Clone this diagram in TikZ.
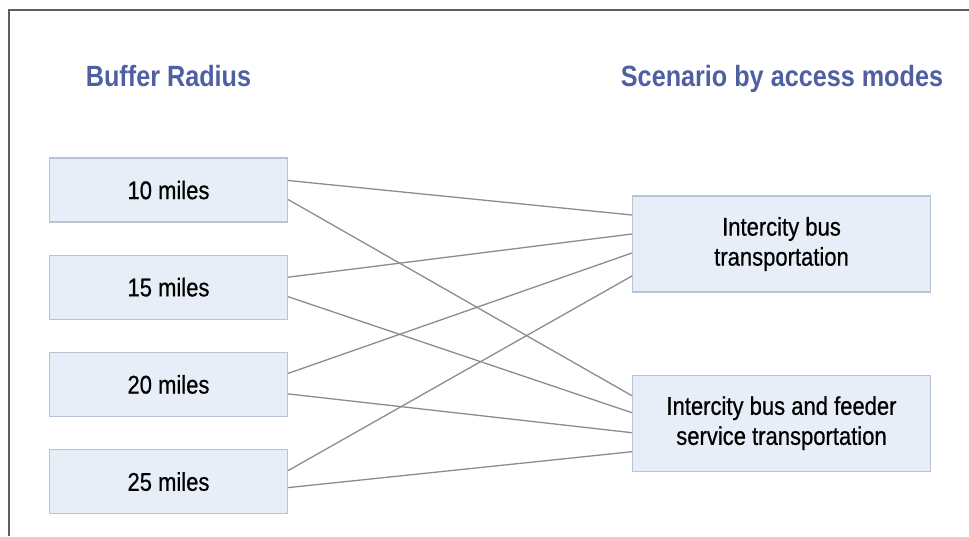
\documentclass[tikz,border=0pt]{standalone}
\usepackage{fontspec}
\setmainfont{Liberation Sans}[FakeStretch=0.86]
\newfontfamily\boxfont{Liberation Sans}[FakeStretch=0.86, FakeBold=0.6]
\usetikzlibrary{positioning}
\definecolor{titleblue}{HTML}{4E5FA2}
\definecolor{boxfill}{HTML}{E8EEF8}
\definecolor{boxedge}{HTML}{B8C3D6}
\definecolor{linkgray}{HTML}{8C8C8C}
\definecolor{framegray}{HTML}{5E5E5E}

\begin{document}
\begin{tikzpicture}[x=1pt, y=-1pt, node distance=32pt, link/.style={draw=linkgray, line width=1.3pt}, block/.style={rectangle, draw=boxedge, line width=1.2pt, fill=boxfill, minimum width=238pt, minimum height=64pt, inner sep=2pt, align=center, font=\boxfont\fontsize{25.6}{30}\selectfont}, wide/.style={block, minimum width=298pt, minimum height=96pt}, heading/.style={anchor=base, text=titleblue, font=\bfseries\fontsize{29.3}{34}\selectfont}]
\useasboundingbox (0,0) rectangle (969,536);
\draw[framegray, line width=2pt] (9,536) -- (9,10) -- (969,10);
\node[heading] (hleft) at (168.5,86) {Buffer Radius};
\node[heading] (hright) at (782,86) {Scenario by access modes};
\node[block] (m10) at (168.5,190) {10 miles};
\node[block,below=of m10] (m15) {15 miles};
\node[block,below=of m15] (m20) {20 miles};
\node[block,below=of m20] (m25) {25 miles};
\node[wide] (bus) at (781.5,244) {Intercity bus\\transportation};
\node[wide,below=82pt of bus] (feed) {Intercity bus and feeder\\service transportation};
% buffer -> intercity bus
\draw[link] ([yshift=9.5pt]m10.east) -- ([yshift=29pt]bus.west);
\draw[link] ([yshift=10pt]m15.east) -- ([yshift=10pt]bus.west);
\draw[link] ([yshift=11pt]m20.east) -- ([yshift=-9pt]bus.west);
\draw[link] ([yshift=11pt]m25.east) -- ([yshift=-32pt]bus.west);
% buffer -> bus and feeder
\draw[link] ([yshift=-9.5pt]m10.east) -- ([yshift=27.5pt]feed.west);
\draw[link] ([yshift=-9.5pt]m15.east) -- ([yshift=10.5pt]feed.west);
\draw[link] ([yshift=-9.5pt]m20.east) -- ([yshift=-9.5pt]feed.west);
\draw[link] ([yshift=-6pt]m25.east) -- ([yshift=-28.5pt]feed.west);
\end{tikzpicture}
\end{document}
